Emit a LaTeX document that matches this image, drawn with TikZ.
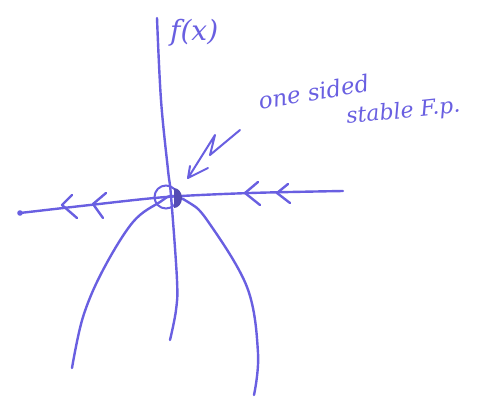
\documentclass[tikz,border=0pt]{standalone}
\usepackage{fontspec}
\setmainfont{DejaVu Serif}
\begin{document}
\begin{tikzpicture}[x=1pt,y=-1pt,
  pen/.style={draw=penc,line width=2.4pt,line cap=round,line join=round},
  label/.style={text=penc,inner sep=0pt,font=\itshape}]
\definecolor{penc}{RGB}{105,95,225}
\useasboundingbox (0,0) rectangle (482,402);
% vertical axis
\draw[pen] plot[smooth,tension=0.6] coordinates {(157,18) (161,100) (168,170) (171,196) (177,280) (176,310) (170,340)};
% horizontal axis
\draw[pen] plot[smooth,tension=0.5] coordinates {(20,213) (90,205) (166,197) (250,193) (343,191)};
\fill[penc] (20,213) circle (2.8pt);
% chevrons (pointing left)
\draw[pen] (72,195) -- (62,205) -- (77,218);
\draw[pen] (106,193) -- (93,204) -- (103,218);
\draw[pen] (258,182) -- (245,193) -- (260,205);
\draw[pen] (288,184) -- (277,193) -- (290,203);
% parabola
\draw[pen] plot[smooth,tension=0.6] coordinates {(72,368) (83,317) (103,270) (133,222) (160,202) (172,196) (188,202) (207,220) (247,287) (258,353) (254,395)};
% fixed point
\node[circle,draw=penc,line width=2pt,minimum size=23pt,inner sep=0pt] (fp) at (166,197) {};
\fill[penc!80!black] (174,188) arc (90:-90:8pt and 10pt) -- cycle;
% annotation arrow
\draw[pen,line width=2pt] (240,130) -- (210,155) -- (215,135) -- (188,178) -- (208,168);
\draw[pen,line width=2pt] (188,178) -- (190,166);
% labels
\node[label,font=\itshape\fontsize{28}{28}\selectfont,anchor=base west] (fx) at (170,40) {f(x)};
\node[label,font=\itshape\fontsize{23}{23}\selectfont,rotate=10,anchor=base west] (one) at (260,110) {one sided};
\node[label,font=\itshape\fontsize{22}{22}\selectfont,rotate=6,anchor=base west] (st) at (347,124) {stable F.p.};
\end{tikzpicture}
\end{document}
